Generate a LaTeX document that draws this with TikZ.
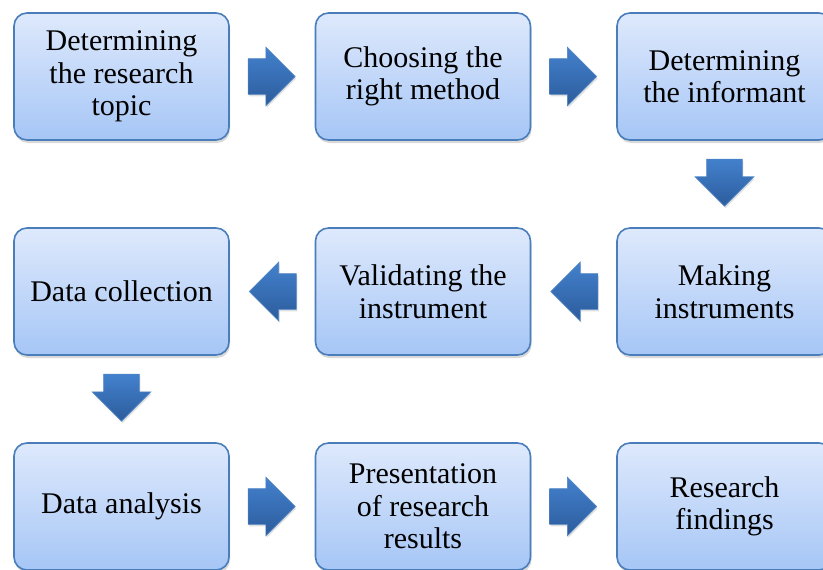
\documentclass[tikz,border=0pt]{standalone}
\usepackage{fontspec}
\setmainfont{Liberation Serif}
\usetikzlibrary{shapes.arrows,shadows,calc}

\definecolor{boxtop}{HTML}{DEE9FC}
\definecolor{boxbottom}{HTML}{A6C6F6}
\definecolor{boxedge}{HTML}{4A7EBB}
\definecolor{arrowtop}{HTML}{4381CD}
\definecolor{arrowbottom}{HTML}{2C5C9C}
\definecolor{arrowedge}{HTML}{4F84C4}

\tikzset{
  stepbox/.style={draw=boxedge, line width=1.6pt, rounded corners=13pt,
    top color=boxtop, bottom color=boxbottom,
    minimum width=215pt, minimum height=127pt, align=center,
    font=\fontsize{30}{32.5}\selectfont,
    drop shadow={shadow xshift=1pt, shadow yshift=-3pt, opacity=0.3}},
  blockarrow/.style={single arrow, draw=arrowedge, line width=0.6pt,
    top color=arrowtop, bottom color=arrowbottom,
    inner xsep=0pt, inner ysep=17.5pt, minimum height=47pt,
    single arrow head extend=11.5pt, anchor=tail,
    drop shadow={shadow xshift=1pt, shadow yshift=-2pt, opacity=0.25}}
}

\begin{document}
\begin{tikzpicture}[x=1pt, y=1pt]
  \useasboundingbox (0,0) rectangle (823,-570);
  \node[stepbox] (topic) at (121.5,-76.5) {Determining\\the research\\topic};
  \node[stepbox] (method) at (423,-76.5) {Choosing the\\right method};
  \node[stepbox] (informant) at (724.5,-76.5) {Determining\\the informant};
  \node[stepbox] (making) at (724.5,-291.5) {Making\\instruments};
  \node[stepbox] (validating) at (423,-291.5) {Validating the\\instrument};
  \node[stepbox] (collection) at (121.5,-291.5) {Data collection};
  \node[stepbox] (analysis) at (121.5,-506.5) {Data analysis};
  \node[stepbox] (presentation) at (423,-506.5) {Presentation\\of research\\results};
  \node[stepbox] (findings) at (724.5,-506.5) {Research\\findings};

  \node[blockarrow] (a1) at ($(topic.east)!18pt!(method.west)$) {};
  \node[blockarrow] (a2) at ($(method.east)!18pt!(informant.west)$) {};
  \node[blockarrow, rotate=-90] (a3) at ($(informant.south)!18pt!(making.north)$) {};
  \node[blockarrow, rotate=180] (a4) at ($(making.west)!18pt!(validating.east)$) {};
  \node[blockarrow, rotate=180] (a5) at ($(validating.west)!18pt!(collection.east)$) {};
  \node[blockarrow, rotate=-90] (a6) at ($(collection.south)!18pt!(analysis.north)$) {};
  \node[blockarrow] (a7) at ($(analysis.east)!18pt!(presentation.west)$) {};
  \node[blockarrow] (a8) at ($(presentation.east)!18pt!(findings.west)$) {};
\end{tikzpicture}
\end{document}
